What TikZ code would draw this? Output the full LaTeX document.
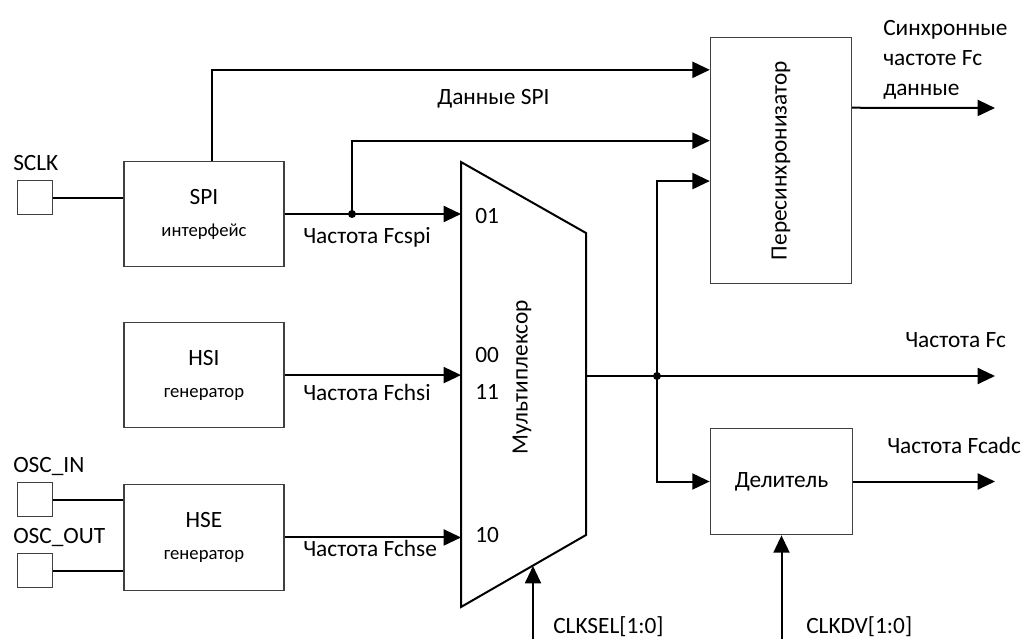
\documentclass[tikz,border=0pt]{standalone}
\usepackage{fontspec}
\setmainfont{Carlito}
\usetikzlibrary{arrows.meta, positioning, calc}

\begin{document}
\begin{tikzpicture}[
    x=0.75pt, y=-0.75pt,
    font=\fontsize{17.5}{21}\selectfont,
    block/.style={rectangle, draw=black!75, line width=0.8pt, minimum width=120pt, minimum height=79pt, align=center},
    pinbox/.style={rectangle, draw=black!75, line width=0.8pt, minimum size=26pt, inner sep=0pt},
    wire/.style={line width=1.5pt},
    arrow/.style={wire, -{Triangle[length=13pt, width=12pt]}},
    lbl/.style={anchor=base west, inner sep=0pt},
    dot/.style={circle, fill, inner sep=0pt, minimum size=6pt}
]
\useasboundingbox (0,0) rectangle (1032,639);

% source blocks
\node (spi) [block] at (204,214) {SPI\\[3pt]{\fontsize{14}{17}\selectfont интерфейс}};
\node (hsi) [block, below=41pt of spi] {HSI\\[3pt]{\fontsize{14}{17}\selectfont генератор}};
\node (hse) [block, below=42pt of hsi] {HSE\\[3pt]{\fontsize{14}{17}\selectfont генератор}};

% pins
\node (sclk) [pinbox] at (35,197.5) {};
\node (oscin) [pinbox] at (35,499.5) {};
\node (oscout) [pinbox] at (35,570.5) {};
\node (sclklbl) [lbl] at (13,170) {SCLK};
\node (oscinlbl) [lbl] at (13,472) {OSC\_IN};
\node (oscoutlbl) [lbl] at (13,543) {OSC\_OUT};

% multiplexer
\coordinate (mtl) at (461,162);
\coordinate (mtr) at (586,233);
\coordinate (mbr) at (586,535);
\coordinate (mbl) at (461,607);
\draw [wire] (mtl) -- (mtr) -- (mbr) -- (mbl) -- cycle;
\node (muxlbl) [rotate=90] at (522,377) {Мультиплексор};
\node (p01) [lbl] at (475,223) {01};
\node (p00) [lbl] at (475,362) {00};
\node (p11) [lbl] at (475,399) {11};
\node (p10) [lbl] at (475,542) {10};
\coordinate (mout) at (586,376);

% right side blocks
\node (resync) [block, minimum width=106pt, minimum height=185pt] at (781,160.5) {};
\node (resynclbl) [rotate=90] at (resync) {Пересинхронизатор};
\node (div) [block, minimum width=107pt, minimum height=80pt] at (781.5,481.5) {Делитель};

% junctions and free ends
\coordinate (jspi) at (352,214);
\coordinate (jout) at (657,376);
\coordinate (syncout) at (995,108);
\coordinate (fcout) at (995,376);
\coordinate (fcadcout) at (995,481.5);
\coordinate (clksel) at (533,639);
\coordinate (clkselin) at (533,566);
\coordinate (clkdv) at (781.5,639);

% wires
\draw [wire] (sclk.east) -- (sclk.east -| spi.west);
\draw [wire] (oscin.east) -- (oscin.east -| hse.west);
\draw [wire] (oscout.east) -- (oscout.east -| hse.west);

\draw [arrow] ([xshift=6pt]spi.north) |- ($(resync.north west)!0.134!(resync.south west)$);
\draw [arrow] (spi.east) -- (spi.east -| mtl);
\draw [arrow] (jspi) |- ($(resync.north west)!0.42!(resync.south west)$);
\draw [arrow] (hsi.east) -- (hsi.east -| mtl);
\draw [arrow] (hse.east) -- (hse.east -| mtl);

\draw [arrow] (mout) -- (fcout);
\draw [arrow] (jout) |- ($(resync.north west)!0.583!(resync.south west)$);
\draw [arrow] (jout) |- (div.west);
\draw [arrow] ($(resync.north east)!0.287!(resync.south east)$) -- (syncout);
\draw [arrow] (div.east) -- (fcadcout);
\draw [arrow] (clksel) -- (clkselin);
\draw [arrow] (clkdv) -- (div.south);

\node (dotspi) [dot] at (jspi) {};
\node (dotout) [dot] at (jout) {};

% labels
\node (spidata) [lbl] at (437,104) {Данные SPI};
\node (fcspi) [lbl] at (303,243) {Частота Fcspi};
\node (fchsi) [lbl] at (303,400) {Частота Fchsi};
\node (fchse) [lbl] at (303,556) {Частота Fchse};
\node (synclbl) [lbl, align=left, anchor=north west] at (883,20) {Синхронные\\[1.5pt]частоте Fc\\[1.5pt]данные};
\node (fclbl) [lbl] at (905,347) {Частота Fc};
\node (fcadclbl) [lbl] at (887,453) {Частота Fcadc};
\node (clksellbl) [lbl] at (553,633) {CLKSEL[1:0]};
\node (clkdvlbl) [lbl] at (806,633) {CLKDV[1:0]};

\end{tikzpicture}
\end{document}
